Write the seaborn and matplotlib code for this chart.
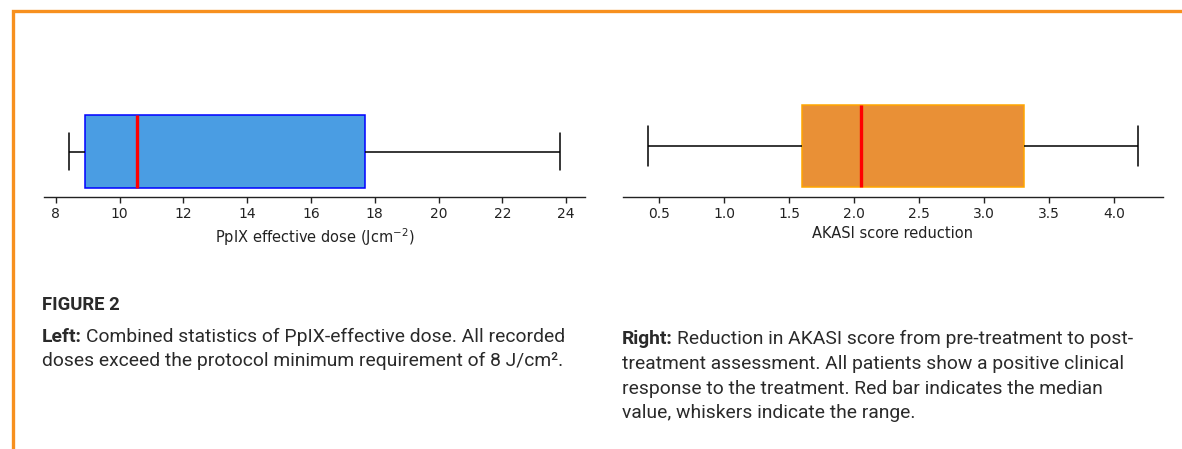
import numpy as np
import pandas as pd
import matplotlib
matplotlib.use("Agg")
import matplotlib.pyplot as plt
import seaborn as sns
from matplotlib.lines import Line2D

# five-number summaries: min, Q1, median, Q3, max
dose_values = [8.4, 8.9, 10.53, 17.68, 23.82]
akasi_values = [0.41, 1.6, 2.05, 3.31, 4.19]

dose_ticks = [8, 10, 12, 14, 16, 18, 20, 22, 24]
akasi_ticks = [0.5, 1.0, 1.5, 2.0, 2.5, 3.0, 3.5, 4.0]

dose_label = "PpIX effective dose (Jcm$^{-2}$)"
akasi_label = "AKASI score reduction"

sns.set_style("white")
plt.rcParams['font.family'] = ['DejaVu Sans']

W, H = 1182, 449
fig = plt.figure(figsize=(W / 100, H / 100), dpi=100)

def px_axes(x0, y0, x1, y1):
    # pixel box (top-left origin) -> figure fraction
    return fig.add_axes([x0 / W, 1 - y1 / H, (x1 - x0) / W, (y1 - y0) / H])

ax_l = px_axes(44, 106, 585, 197)
ax_r = px_axes(623, 95, 1163, 197)

def draw_box(ax, values, fill, edge, ticks, label):
    df = pd.DataFrame({"v": values})
    sns.boxplot(data=df, x="v", ax=ax, whis=(0, 100), width=0.8,
                color=fill, saturation=1, linecolor=edge, linewidth=1.1,
                boxprops=dict(facecolor=fill, edgecolor=edge),
                whiskerprops=dict(color="black", linewidth=1.1),
                capprops=dict(color="black", linewidth=1.1),
                medianprops=dict(color="red", linewidth=2.4))
    ax.set_ylim(0.5, -0.5)
    ax.set_xticks(ticks)
    ax.set_xlabel(label, fontsize=10.5, labelpad=4, color="#222222")
    ax.set_ylabel("")
    ax.set_yticks([])
    for s in ["top", "right", "left"]:
        ax.spines[s].set_visible(False)
    ax.spines["bottom"].set_color("#222222")
    ax.spines["bottom"].set_linewidth(1.0)
    ax.tick_params(axis="x", bottom=True, direction="out", length=4, width=1,
                   labelsize=10, colors="#222222", pad=3)
    ax.set_facecolor("none")

draw_box(ax_l, dose_values, "#4A9DE3", "#0000FF", dose_ticks, dose_label)
draw_box(ax_r, akasi_values, "#E99036", "#FFA500", akasi_ticks, akasi_label)

# orange frame on the left and top
frame = "#F7901E"
fig.add_artist(Line2D([12.5 / W, 12.5 / W, 1.0], [0.0, 1 - 11 / H, 1 - 11 / H],
                      transform=fig.transFigure, color=frame, linewidth=2.4,
                      solid_joinstyle="miter"))

# caption
cap_font = ['Roboto', 'DejaVu Sans']
cap_color = "#2a2a2a"
cap_size = 13.9

fig.text(42 / W, 1 - 305 / H, "FIGURE 2", fontsize=13.3, fontweight="bold",
         family=cap_font, color=cap_color, va="center", ha="left")

renderer = fig.canvas.get_renderer()

def caption(x, y_lines, head, lines):
    t = fig.text(x / W, 1 - y_lines[0] / H, head, fontsize=cap_size, fontweight="bold",
                 family=cap_font, color=cap_color, va="center", ha="left")
    bb = t.get_window_extent(renderer)
    fig.text(bb.x1 / W + 4 / W, 1 - y_lines[0] / H, lines[0], fontsize=cap_size,
             family=cap_font, color=cap_color, va="center", ha="left")
    for y, s in zip(y_lines[1:], lines[1:]):
        fig.text(x / W, 1 - y / H, s, fontsize=cap_size, family=cap_font,
                 color=cap_color, va="center", ha="left")

caption(42, [337, 361], "Left:",
        ["Combined statistics of PpIX-effective dose. All recorded",
         "doses exceed the protocol minimum requirement of 8 J/cm\u00b2."])
caption(622, [339, 364, 389, 413], "Right:",
        ["Reduction in AKASI score from pre-treatment to post-",
         "treatment assessment. All patients show a positive clinical",
         "response to the treatment. Red bar indicates the median",
         "value, whiskers indicate the range."])

fig.savefig("out.png", dpi=100, facecolor="white")
